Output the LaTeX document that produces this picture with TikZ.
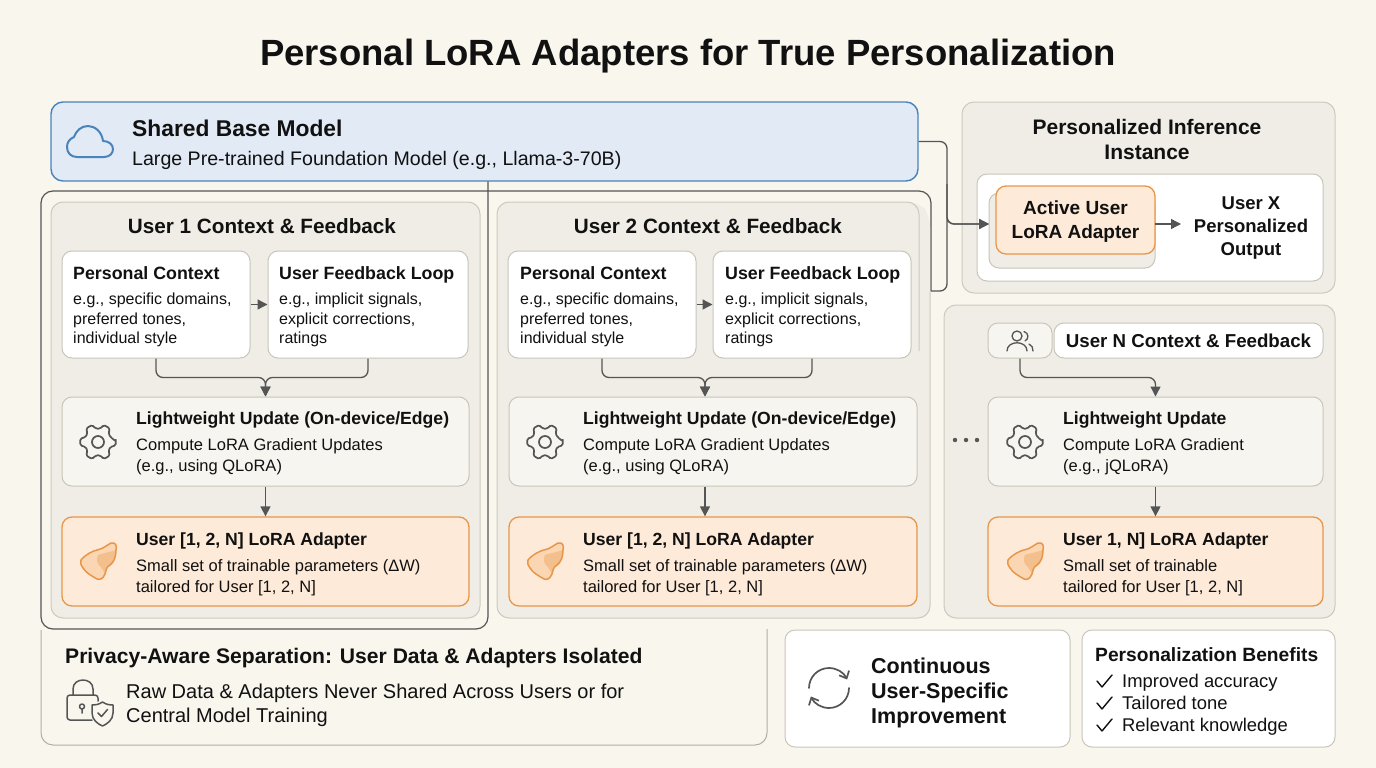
\documentclass[tikz,border=0pt]{standalone}
\usepackage{fontspec}
\setmainfont{Liberation Sans}
\usetikzlibrary{arrows.meta}
\definecolor{pagebg}{HTML}{F9F6EE}
\definecolor{panelfill}{HTML}{EFEDE5}
\definecolor{panelline}{HTML}{CDC9BD}
\definecolor{cardline}{HTML}{C9C5BA}
\definecolor{softfill}{HTML}{F6F5F0}
\definecolor{basefill}{HTML}{E1EAF5}
\definecolor{basestroke}{HTML}{4A83BA}
\definecolor{adaptfill}{HTML}{FDEAD8}
\definecolor{adaptline}{HTML}{E8964A}
\definecolor{blobfill}{HTML}{F8C898}
\definecolor{wirecol}{HTML}{555555}
\definecolor{inkcol}{HTML}{111111}
\newcommand{\hdfont}[2]{\fontsize{#1}{#2}\selectfont\bfseries}
\newcommand{\txfont}[2]{\fontsize{#1}{#2}\selectfont}
\tikzset{
  panelbox/.style={draw=panelline,fill=panelfill,line width=1pt,rounded corners=12pt,inner sep=0pt},
  card/.style={draw=cardline,fill=white,line width=1pt,rounded corners=10pt,inner sep=0pt},
  softcard/.style={card,fill=softfill},
  adaptcard/.style={draw=adaptline,fill=adaptfill,line width=1.3pt,rounded corners=10pt,inner sep=0pt},
  txt/.style={inner sep=0pt,text=inkcol,align=left,anchor=west},
  cardtxt/.style={txt,font=\txfont{16}{19.7}},
  widetxt/.style={txt,font=\txfont{16.5}{21}},
  wire/.style={draw=wirecol,line width=1.3pt,rounded corners=7pt,-{Triangle[length=10pt,width=10pt]}},
  icon/.style={draw=wirecol,line width=1.7pt,line cap=round,line join=round},
  pics/gear/.style={code={
    \draw[icon,rounded corners=1.5pt] (-2:18)
      \foreach \a in {0,60,...,300}{ -- ({\a-11}:18) -- ({\a+11}:18) -- ({\a+21}:13.5) -- ({\a+39}:13.5) } -- cycle;
    \draw[icon] (0,0) circle (6);
  }},
  pics/blob/.style={code={
    \draw[adaptline,line width=1.5pt,fill=blobfill!60!adaptfill] (-17,-2) .. controls (-12,-8) and (-5,-11) .. (-1,-12) .. controls (5,-13) and (9,-17) .. (13,-19) .. controls (18,-20) and (19,-16) .. (18,-12) .. controls (18,-5) and (16,0) .. (12,3) .. controls (8,5) and (8,9) .. (7,12) .. controls (5,17) and (2,18) .. (-1,17) .. controls (-6,14) and (-12,11) .. (-15,6) .. controls (-17,3) and (-18,1) .. (-17,-2) -- cycle;
    \fill[adaptline,opacity=.35] (0,-7) .. controls (-2,-3) and (-1,1) .. (1,3) .. controls (4,6) and (6,10) .. (7,12) .. controls (8,9) and (8,5) .. (12,3) .. controls (16,0) and (18,-5) .. (18,-12) .. controls (12,-10) and (6,-9) .. (0,-7) -- cycle;
  }}
}
\begin{document}
\begin{tikzpicture}[x=1pt,y=-1pt]
  \useasboundingbox (0,0) rectangle (1376,768);
  \fill[pagebg] (0,0) rectangle (1376,768);

  \node[inner sep=0pt,text=inkcol,font=\hdfont{36.5}{40}] (title) at (688,56.5) {Personal LoRA Adapters for True Personalization};

  \draw[wirecol,line width=1.2pt,rounded corners=12pt] (488,191) -- (41,191) -- (41,629) -- (488,629) -- (488,181);
  \draw[wirecol,line width=1.2pt,rounded corners=12pt] (488,191) -- (931,191) -- (931,291);

  \node[panelbox,minimum width=429pt,minimum height=416pt] (panel1) at (265.5,410) {};
  \fill[panelfill,rounded corners=12pt] (497,202) -- (919,202) -- (930,215) -- (930,618) -- (497,618) -- cycle;
  \draw[panelline,line width=1pt,rounded corners=12pt] (919,351) -- (919,202) -- (497,202) -- (497,618) -- (930,618) -- (930,291);
  \node[panelbox,minimum width=391pt,minimum height=313pt] (panelN) at (1139.5,461.5) {};
  \node[panelbox,minimum width=373pt,minimum height=191pt] (infer) at (1148.5,197.5) {};

  \node[draw=basestroke,fill=basefill,line width=1.4pt,rounded corners=12pt,minimum width=867pt,minimum height=79pt] (base) at (484.5,141.5) {};
  \node[txt,font=\txfont{19.6}{24}] (basetext) at (132,144.5) {{\hdfont{22.8}{24}Shared Base Model}\\[5pt]Large Pre-trained Foundation Model (e.g., Llama-3-70B)};
  \draw[basestroke,line width=2pt,line join=round] (77,157) -- (104,157) .. controls (110,157) and (113,153) .. (113,149) .. controls (113,144) and (108,141) .. (103,141) .. controls (102,132) and (95,126) .. (88,126) .. controls (81,126) and (76,131) .. (74,137) .. controls (69,139) and (67,143) .. (67,147) .. controls (67,153) and (71,157) .. (77,157) -- cycle;

  \node[inner sep=0pt,text=inkcol,font=\hdfont{20.7}{25}] (title1) at (262,226) {User 1 Context \& Feedback};
  \node[card,minimum width=188pt,minimum height=107pt] (ctx1) at (156,304.5) {};
  \node[card,minimum width=200pt,minimum height=107pt] (fb1) at (368,304.5) {};
  \node[cardtxt] (ctx1t) at (73,307) {{\hdfont{17.8}{20}Personal Context}\\[5pt]e.g., specific domains,\\preferred tones,\\individual style};
  \node[cardtxt] (fb1t) at (279,307) {{\hdfont{17.8}{20}User Feedback Loop}\\[5pt]e.g., implicit signals,\\explicit corrections,\\ratings};
  \node[softcard,minimum width=407pt,minimum height=89pt] (light1) at (265.5,441.5) {};
  \node[widetxt] (light1t) at (136,443.5) {{\hdfont{17.6}{21}Lightweight Update (On-device/Edge)}\\[5pt]Compute LoRA Gradient Updates\\(e.g., using QLoRA)};
  \node[adaptcard,minimum width=407pt,minimum height=89pt] (adapt1) at (265.5,561.5) {};
  \node[widetxt] (adapt1t) at (136,564) {{\hdfont{17.6}{21}User [1, 2, N] LoRA Adapter}\\[5pt]Small set of trainable parameters (ΔW)\\tailored for User [1, 2, N]};
  \pic at (98,442) {gear};
  \pic at (98,562) {blob};
  \draw[wire] (ctx1.east) -- (fb1.west);
  \draw[wire] (ctx1.south) -- ++(0,19) -| (light1.north);
  \draw[wire] (fb1.south) -- ++(0,19) -| (light1.north);
  \draw[wire] (light1.south) -- (adapt1.north);

  \node[inner sep=0pt,text=inkcol,font=\hdfont{20.7}{25}] (title2) at (708,226) {User 2 Context \& Feedback};
  \node[card,minimum width=188pt,minimum height=107pt] (ctx2) at (602,304.5) {};
  \node[card,minimum width=198pt,minimum height=107pt] (fb2) at (812,304.5) {};
  \node[cardtxt] (ctx2t) at (520,307) {{\hdfont{17.8}{20}Personal Context}\\[5pt]e.g., specific domains,\\preferred tones,\\individual style};
  \node[cardtxt] (fb2t) at (725,307) {{\hdfont{17.8}{20}User Feedback Loop}\\[5pt]e.g., implicit signals,\\explicit corrections,\\ratings};
  \node[softcard,minimum width=408pt,minimum height=89pt] (light2) at (713,441.5) {};
  \node[widetxt] (light2t) at (583,443.5) {{\hdfont{17.6}{21}Lightweight Update (On-device/Edge)}\\[5pt]Compute LoRA Gradient Updates\\(e.g., using QLoRA)};
  \node[adaptcard,minimum width=408pt,minimum height=89pt] (adapt2) at (713,561.5) {};
  \node[widetxt] (adapt2t) at (583,564) {{\hdfont{17.6}{21}User [1, 2, N] LoRA Adapter}\\[5pt]Small set of trainable parameters (ΔW)\\tailored for User [1, 2, N]};
  \pic at (545,442) {gear};
  \pic at (545,562) {blob};
  \draw[wire] (ctx2.east) -- (fb2.west);
  \draw[wire] (ctx2.south) -- ++(0,19) -| ([xshift=-8pt]light2.north);
  \draw[wire] (fb2.south) -- ++(0,19) -| ([xshift=-8pt]light2.north);
  \draw[wire] ([xshift=-8pt]light2.south) -- ([xshift=-8pt]adapt2.north);

  \node[softcard,minimum width=64pt,minimum height=35pt] (users) at (1020,340.5) {};
  \draw[icon,line width=1.3pt] (1017,336) circle (5);
  \draw[icon,line width=1.3pt] (1007,351) .. controls (1007,340) and (1027,340) .. (1027,351);
  \draw[icon,line width=1.3pt] (1024,331.5) .. controls (1029,333) and (1029,339) .. (1025,341);
  \draw[icon,line width=1.3pt] (1029,344) .. controls (1032,345) and (1033,348) .. (1033,351);
  \node[card,text=inkcol,font=\hdfont{18.7}{24},minimum width=269pt,minimum height=35pt] (titleN) at (1188.5,340.5) {User N Context \& Feedback};
  \node[softcard,minimum width=335pt,minimum height=89pt] (lightN) at (1155.5,441.5) {};
  \node[widetxt] (lightNt) at (1063,443.5) {{\hdfont{17.6}{21}Lightweight Update}\\[5pt]Compute LoRA Gradient\\(e.g., jQLoRA)};
  \node[adaptcard,minimum width=335pt,minimum height=89pt] (adaptN) at (1155.5,561.5) {};
  \node[widetxt] (adaptNt) at (1063,564) {{\hdfont{17.6}{21}User 1, N] LoRA Adapter}\\[5pt]Small set of trainable\\tailored for User [1, 2, N]};
  \pic at (1025,442) {gear};
  \pic at (1025,562) {blob};
  \fill[wirecol] (955,440) circle (2.2) (966,440) circle (2.2) (977,440) circle (2.2);
  \draw[wire] (users.south) -- ++(0,19) -| (lightN.north);
  \draw[wire] (lightN.south) -- (adaptN.north);

  \node[inner sep=0pt,text=inkcol,align=center,font=\hdfont{21}{25}] (infertitle) at (1147,139.5) {Personalized Inference\\Instance};
  \node[card,minimum width=346pt,minimum height=107pt] (inferbox) at (1150,227.5) {};
  \node[draw=cardline,fill=panelfill,line width=1pt,rounded corners=10pt,minimum width=166pt,minimum height=75pt] (shadow) at (1072,230.5) {};
  \node[adaptcard,align=center,text=inkcol,minimum width=159pt,minimum height=68pt,font=\hdfont{19}{24}] (active) at (1075.5,220) {\rule{0pt}{16pt}Active User\\LoRA Adapter};
  \node[inner sep=0pt,text=inkcol,align=center,font=\hdfont{18.5}{23}] (output) at (1251,228) {User X\\Personalized\\Output};
  \coordinate (turn) at (947,180);
  \coordinate (inlet) at (989,224);
  \coordinate (frameout) at (931,291);
  \coordinate (outstart) at (1155,224);
  \coordinate (outtip) at (1181,224);
  \draw[wire] (base.east) -| (turn) |- (inlet);
  \draw[wire] (frameout) -| (turn) |- (inlet);
  \draw[wire] (outstart) -- (outtip);

  \draw[cardline!80!wirecol,line width=1pt,rounded corners=12pt] (41,630) -- (41,745) -- (767,745) -- (767,629);
  \node[txt,font=\hdfont{21.1}{25}] (privtitle) at (65,658) {Privacy-Aware Separation: User Data \& Adapters Isolated};
  \node[txt,font=\txfont{20}{24}] (privtext) at (126,705) {Raw Data \& Adapters Never Shared Across Users or for\\Central Model Training};
  \draw[icon,line width=1.5pt] (73,695) -- (73,689) .. controls (73,677) and (93,677) .. (93,689) -- (93,695);
  \draw[icon,line width=1.5pt,rounded corners=3pt] (92,720) -- (67,720) -- (67,695) -- (98,695) -- (98,701);
  \draw[icon,line width=1.5pt] (82,706.5) circle (2.5) (82,709) -- (82,713);
  \draw[icon,line width=1.5pt] (102.5,702) .. controls (107,705) and (110,705) .. (113,705) -- (113,713) .. controls (113,720) and (107,724) .. (102.5,726) .. controls (98,724) and (92,720) .. (92,713) -- (92,705) .. controls (95,705) and (98,705) .. (102.5,702) -- cycle;
  \draw[icon,line width=1.5pt] (98,713) -- (101.5,716.5) -- (107.5,709.5);

  \node[card,minimum width=285pt,minimum height=117pt] (improve) at (927.5,688.5) {};
  \node[txt,font=\hdfont{21.5}{25}] (improvet) at (871,693) {Continuous\\User-Specific\\Improvement};
  \draw[icon,line width=1.7pt,-{Straight Barb[length=6pt,width=11pt]}] (809,688) arc[start angle=180,end angle=25,radius=20pt];
  \draw[icon,line width=1.7pt,-{Straight Barb[length=6pt,width=11pt]}] (849,688) arc[start angle=0,end angle=-155,radius=20pt];

  \node[card,minimum width=253pt,minimum height=117pt] (benefits) at (1208.5,688.5) {};
  \node[txt,font=\hdfont{19.2}{24}] (benefitst) at (1095,655) {Personalization Benefits};
  \node[txt,font=\txfont{18.4}{22}] (benefitsl) at (1122,705) {Improved accuracy\\Tailored tone\\Relevant knowledge};
  \draw[icon,inkcol,line width=1.4pt] (1097,681) -- (1102,687) -- (1112,675);
  \draw[icon,inkcol,line width=1.4pt] (1097,703) -- (1102,709) -- (1112,697);
  \draw[icon,inkcol,line width=1.4pt] (1097,725) -- (1102,731) -- (1112,719);
\end{tikzpicture}
\end{document}
